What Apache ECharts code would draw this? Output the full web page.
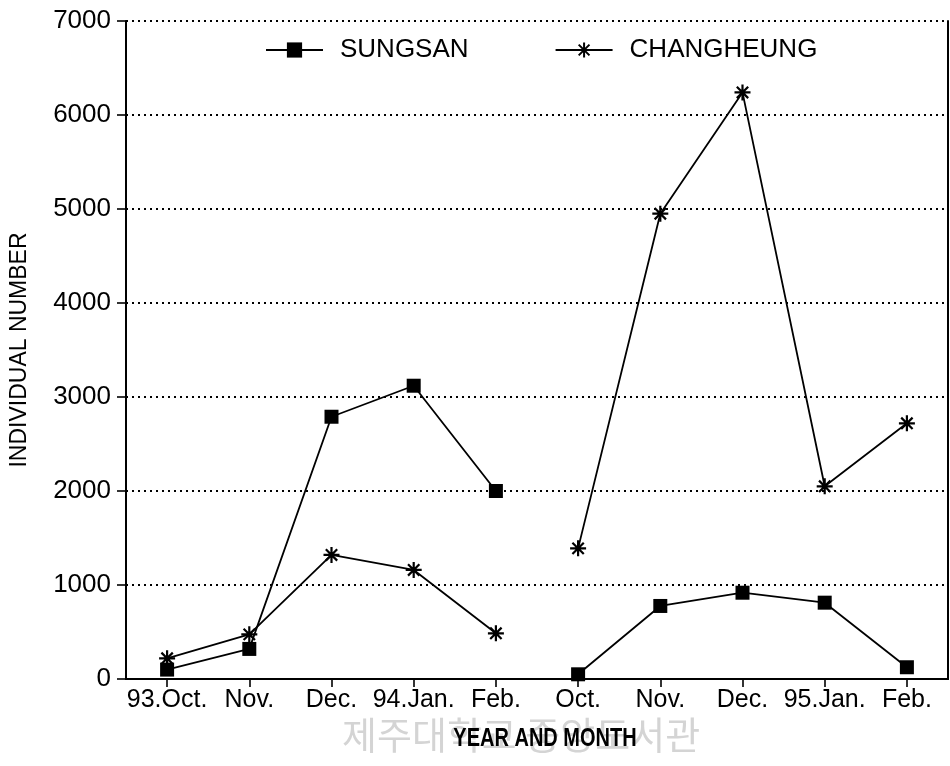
<!DOCTYPE html>
<html>
<head>
<meta charset="utf-8">
<script src="https://cdn.jsdelivr.net/npm/echarts@6/dist/echarts.min.js"></script>
<style>
html,body{margin:0;padding:0;background:#fff;}
#chart{width:950px;height:766px;}
</style>
</head>
<body>
<div id="chart"></div>
<script>
// ---- data ----
const categories = ['93.Oct.', 'Nov.', 'Dec.', '94.Jan.', 'Feb.', 'Oct.', 'Nov.', 'Dec.', '95.Jan.', 'Feb.'];
const seasonBreak = 5; // index where the 94/95 season starts (lines are not connected across)
const sungsan    = [100, 320, 2790, 3120, 2000, 50, 777, 918, 812, 125];
const changheung = [220, 475, 1320, 1160, 486, 1390, 4950, 6240, 2050, 2720];
const yTicks = { min: 0, max: 7000, interval: 1000 };
const seriesNames = ['SUNGSAN', 'CHANGHEUNG'];
const xAxisTitle = 'YEAR AND MONTH';
const yAxisTitle = 'INDIVIDUAL NUMBER';
const watermark = '제주대학교 중앙도서관';

// ---- helpers ----
function part(arr, first) {
  return arr.map((v, i) => (first ? (i < seasonBreak ? v : '-') : (i >= seasonBreak ? v : '-')));
}
const starPath = 'path://M0,-10L0,10M-10,0L10,0M-7.1,-7.1L7.1,7.1M-7.1,7.1L7.1,-7.1';
const font = '"Liberation Sans", Arial, sans-serif';

function makeSeries(name, arr, first, symbol, size, itemStyle) {
  return {
    name: name,
    type: 'line',
    data: part(arr, first),
    symbol: symbol,
    symbolSize: size,
    showAllSymbol: true,
    connectNulls: false,
    lineStyle: { color: '#000', width: 1.8 },
    itemStyle: itemStyle,
    emphasis: { disabled: true },
    animation: false,
    z: 3
  };
}
const squareStyle = { color: '#000', borderColor: '#000', borderWidth: 0 };
const starStyle = { color: 'transparent', borderColor: '#000', borderWidth: 2.2 };

const chart = echarts.init(document.getElementById('chart'), null, { renderer: 'canvas' });
chart.setOption({
  backgroundColor: '#fff',
  animation: false,
  grid: { left: 126, right: 2, top: 21, bottom: 87, containLabel: false },
  legend: {
    data: seriesNames,
    left: 260,
    top: 32,
    itemWidth: 57,
    itemHeight: 19,
    itemGap: 86,
    selectedMode: false,
    textStyle: { fontFamily: font, fontSize: 26, color: '#000', padding: [0, 0, 0, 12] }
  },
  xAxis: [
    {
      type: 'category',
      data: categories,
      boundaryGap: true,
      axisLine: { show: true, lineStyle: { color: '#000', width: 2 } },
      axisTick: { show: true, inside: false, length: 8, alignWithLabel: true, lineStyle: { color: '#000', width: 1.6 } },
      axisLabel: { interval: 0, fontFamily: font, fontSize: 25, color: '#000', margin: 9 },
      splitLine: { show: false }
    },
    {
      type: 'category',
      data: categories,
      position: 'top',
      axisLine: { show: true, lineStyle: { color: '#000', width: 2 } },
      axisTick: { show: false },
      axisLabel: { show: false },
      splitLine: { show: false }
    }
  ],
  yAxis: [
    {
      type: 'value',
      min: yTicks.min,
      max: yTicks.max,
      interval: yTicks.interval,
      name: yAxisTitle,
      nameLocation: 'middle',
      nameGap: 95,
      nameRotate: 90,
      nameTextStyle: { fontFamily: font, fontSize: 23, color: '#000' },
      axisLine: { show: true, lineStyle: { color: '#000', width: 2 } },
      axisTick: { show: true, inside: false, length: 9, lineStyle: { color: '#000', width: 1.6 } },
      axisLabel: { fontFamily: font, fontSize: 26, color: '#000', margin: 15, formatter: (v) => String(v) },
      splitLine: { show: true, lineStyle: { color: '#000', width: 2, type: [2, 4] } }
    },
    {
      type: 'value',
      min: yTicks.min,
      max: yTicks.max,
      interval: yTicks.interval,
      position: 'right',
      axisLine: { show: true, lineStyle: { color: '#000', width: 2 } },
      axisTick: { show: false },
      axisLabel: { show: false },
      splitLine: { show: false }
    }
  ],
  graphic: [
    {
      type: 'text',
      left: 342,
      top: 716,
      z: -10,
      silent: true,
      style: {
        text: watermark,
        fontFamily: '"Noto Sans CJK KR", sans-serif',
        fontSize: 38,
        fill: '#d4d4d4'
      }
    },
    {
      type: 'text',
      x: 545,
      y: 739,
      scaleX: 0.8,
      z: 10,
      silent: true,
      style: {
        text: xAxisTitle,
        fontFamily: font,
        fontWeight: 'bold',
        fontSize: 25,
        fill: '#000',
        align: 'center',
        verticalAlign: 'middle'
      }
    }
  ],
  series: [
    makeSeries(seriesNames[0], sungsan, true, 'rect', 14, squareStyle),
    makeSeries(seriesNames[0], sungsan, false, 'rect', 14, squareStyle),
    makeSeries(seriesNames[1], changheung, true, starPath, 16, starStyle),
    makeSeries(seriesNames[1], changheung, false, starPath, 16, starStyle)
  ]
});
</script>
</body>
</html>
